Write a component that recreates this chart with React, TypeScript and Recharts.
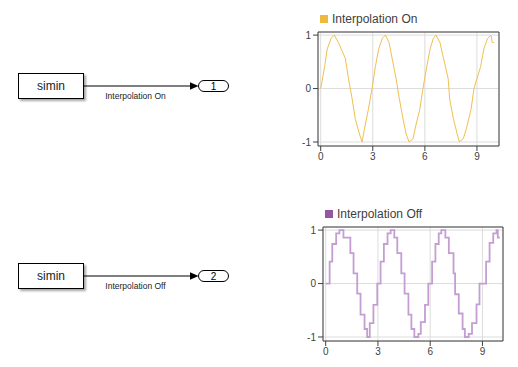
import React from 'react';
import { LineChart, Line, XAxis, YAxis, CartesianGrid, ReferenceArea } from 'recharts';

const times = [
  0, 0.226, 0.377, 0.6, 0.79, 1.02, 1.415, 1.6, 1.81, 2.0, 2.23, 2.38, 2.53, 2.74,
  2.96, 3.15, 3.34, 3.55, 3.73, 3.94, 4.11, 4.34, 4.53, 4.75, 4.92, 5.09, 5.32, 5.46, 5.7,
  5.89, 6.11, 6.3, 6.49, 6.64, 6.87, 7.07, 7.34, 7.43, 7.64, 7.86, 7.99, 8.21, 8.4, 8.66,
  8.83, 9.21, 9.41, 9.62, 9.81, 9.88, 10.0,
];
const values = [
  0, 0.41, 0.74, 0.94, 1.0, 0.86, 0.57, 0.19, -0.19, -0.58, -0.85, -1.0, -0.74, -0.4,
  0, 0.41, 0.74, 0.94, 1.0, 0.86, 0.57, 0.19, -0.19, -0.58, -0.85, -1.0, -0.94, -0.72, -0.4,
  0, 0.41, 0.74, 0.94, 1.0, 0.86, 0.57, 0.19, -0.2, -0.56, -0.85, -1.0, -0.94, -0.74, -0.39,
  0, 0.41, 0.76, 0.94, 1.0, 0.86, 0.86,
];
const xTicks = [0, 3, 6, 9];
const yTicks = [-1, 0, 1];

const data = times.map((t, i) => ({ t, v: values[i] }));

const FONT = 'Arial, "Liberation Sans", sans-serif';
const TEXT = '#404040';

type ScopeProps = {
  left: number;
  top: number;
  title: string;
  swatch: string;
  stroke: string;
  step: boolean;
  xMax: number;
  yAxisWidth: number;
  marginRight: number;
};

const Scope = ({ left, top, title, swatch, stroke, step, xMax, yAxisWidth, marginRight }: ScopeProps) => {
  const xDomain = [-0.155, xMax];
  const yDomain = [-1.075, 1.058];
  return (
    <div style={{ position: 'absolute', left, top, width: 218, height: 170 }}>
      <div
        style={{
          position: 'absolute',
          left: yAxisWidth + 2,
          top: 15,
          display: 'flex',
          alignItems: 'center',
          fontFamily: FONT,
          fontSize: 12,
          color: TEXT,
          whiteSpace: 'nowrap',
        }}
      >
        <span style={{ width: 8, height: 8, background: swatch, display: 'inline-block', marginRight: 4 }} />
        <span style={{ lineHeight: '8px' }}>{title}</span>
      </div>
      <LineChart
        width={218}
        height={170}
        data={data}
        margin={{ top: 32, right: marginRight, bottom: 0, left: 0 }}
        style={{ fontFamily: FONT }}
      >
        <CartesianGrid stroke="#dcdcdc" strokeWidth={1} />
        <XAxis
          dataKey="t"
          type="number"
          domain={xDomain}
          ticks={xTicks}
          allowDataOverflow
          height={24}
          tickSize={5}
          tickMargin={2}
          axisLine={false}
          tickLine={{ stroke: '#404040' }}
          tick={{ fill: TEXT, fontSize: 10 }}
        />
        <YAxis
          type="number"
          domain={yDomain}
          ticks={yTicks}
          allowDataOverflow
          width={yAxisWidth}
          tickSize={5}
          tickMargin={2}
          axisLine={false}
          tickLine={{ stroke: '#404040' }}
          tick={{ fill: TEXT, fontSize: 10 }}
        />
        <Line
          dataKey="v"
          type={step ? 'stepAfter' : 'linear'}
          stroke={stroke}
          strokeWidth={step ? 1.8 : 1}
          dot={false}
          isAnimationActive={false}
        />
        <ReferenceArea
          x1={xDomain[0]}
          x2={xDomain[1]}
          y1={yDomain[0]}
          y2={yDomain[1]}
          fill="none"
          stroke="#404040"
          strokeWidth={1}
          ifOverflow="extendDomain"
        />
      </LineChart>
    </div>
  );
};

const Block = ({ y, label, port }: { y: number; label: string; port: string }) => {
  const mid = y + 12.5;
  return (
    <g fontFamily={FONT}>
      <rect x={18.5} y={y} width={65} height={25} fill="#fff" stroke="#000" strokeWidth={1} filter="url(#shadow)" />
      <text x={51} y={mid + 4} textAnchor="middle" fontSize={12} fill="#222">
        simin
      </text>
      <line x1={83.5} y1={mid} x2={191} y2={mid} stroke="#000" strokeWidth={1} />
      <polygon points={`190,${mid - 3.8} 198.5,${mid} 190,${mid + 3.8}`} fill="#000" />
      <rect x={198.5} y={mid - 5.5} width={30} height={11} rx={5.5} fill="#fff" stroke="#000" strokeWidth={1} />
      <text x={213.5} y={mid + 3.5} textAnchor="middle" fontSize={10} fill="#000">
        {port}
      </text>
      <text x={135.5} y={mid + 12.5} textAnchor="middle" fontSize={8.5} fill="#222">
        {label}
      </text>
    </g>
  );
};

export default function App() {
  return (
    <div style={{ position: 'absolute', left: 0, top: 0, width: 518, height: 367, background: '#fff' }}>
      <svg width={518} height={367} style={{ position: 'absolute', left: 0, top: 0 }}>
        <defs>
          <filter id="shadow" x="-20%" y="-20%" width="140%" height="160%">
            <feDropShadow dx={2} dy={2} stdDeviation={1.2} floodColor="#000" floodOpacity={0.35} />
          </filter>
        </defs>
        <Block y={73.5} label="Interpolation On" port="1" />
        <Block y={263.5} label="Interpolation Off" port="2" />
      </svg>
      <Scope
        left={300}
        top={0}
        title="Interpolation On"
        swatch="#EDB93F"
        stroke="#F0C04E"
        step={false}
        xMax={10.27}
        yAxisWidth={18}
        marginRight={19}
      />
      <Scope
        left={300}
        top={195}
        title="Interpolation Off"
        swatch="#9656A6"
        stroke="#C49ED2"
        step={true}
        xMax={10.18}
        yAxisWidth={23}
        marginRight={15}
      />
    </div>
  );
}
